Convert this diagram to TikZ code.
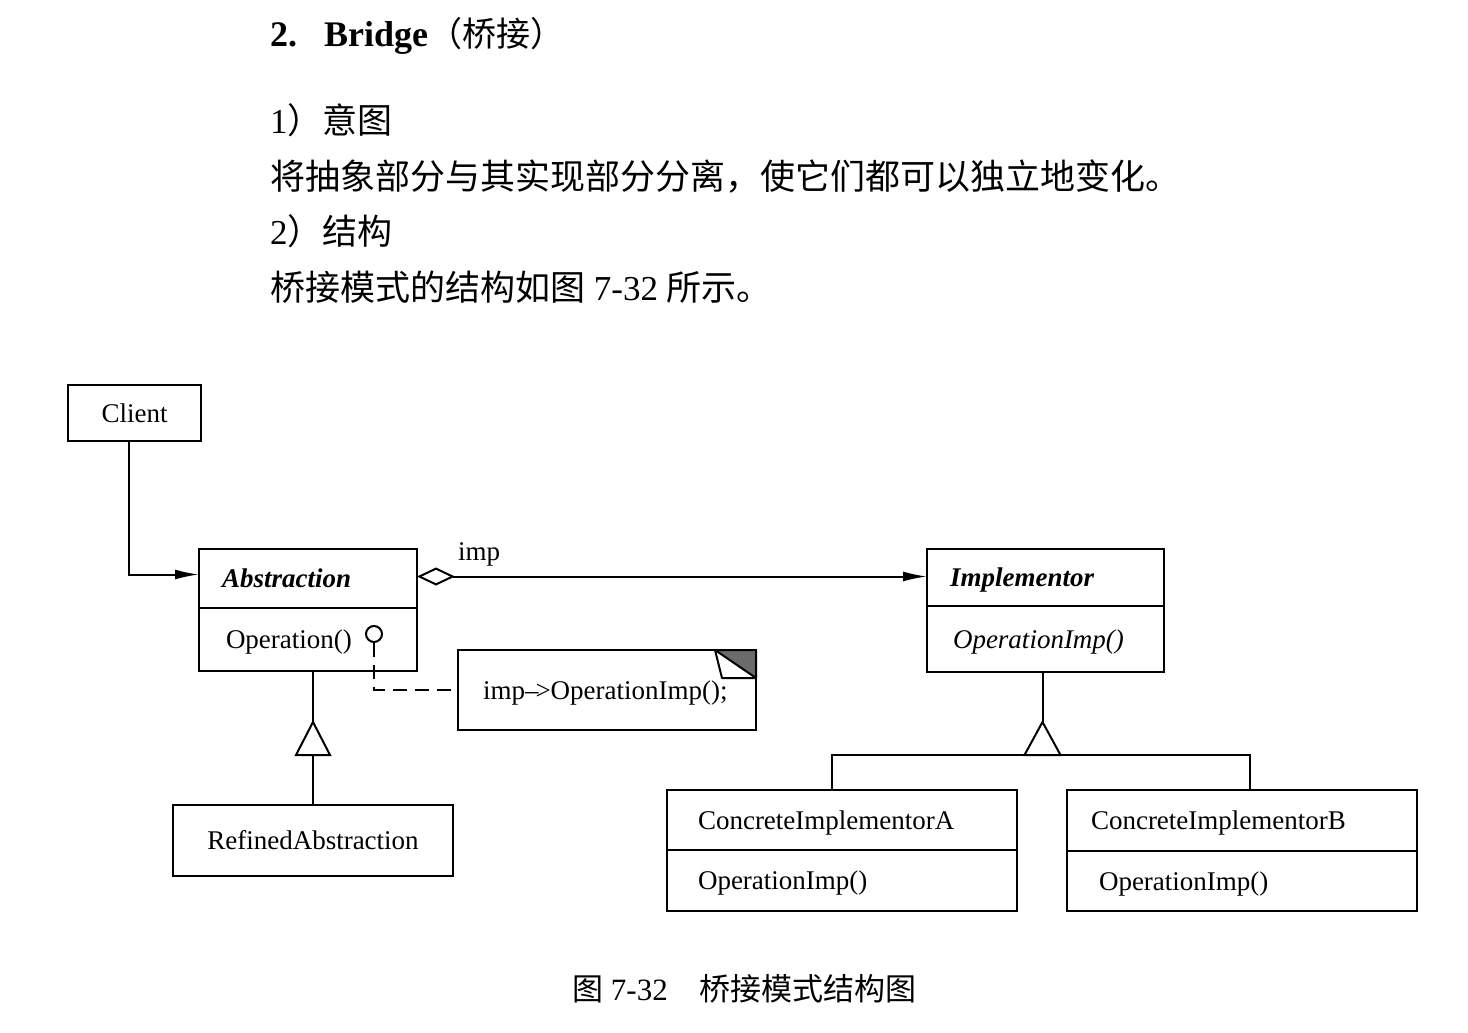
\documentclass[tikz,border=0pt]{standalone}
\usepackage{fontspec}
\setmainfont{Liberation Serif}
\newfontfamily\cjk{Noto Sans CJK SC}
\usetikzlibrary{arrows.meta,calc}
\begin{document}
\begin{tikzpicture}[x=1pt,y=-1pt,
  lw/.style={line width=2pt},
  box/.style={draw, line width=2pt, inner sep=0pt, outer sep=0pt, anchor=north west},
  umlfont/.style={font=\fontsize{27pt}{32pt}\selectfont},
  txt/.style={text height=20pt, text depth=2pt},
  lefttxt/.style={align=left},
  para/.style={anchor=base west, inner sep=0pt, font=\fontsize{35pt}{40pt}\selectfont},
  dashline/.style={line width=2pt, dash pattern=on 14pt off 8pt},
  tipL/.style={-{Latex[length=24pt,width=10pt]}}
]
\useasboundingbox (0,0) rectangle (1468,1033);
\fill[white] (0,0) rectangle (1468,1033);

% ---------- heading text ----------
\node[anchor=base west, inner sep=0pt, font=\fontsize{36pt}{40pt}\selectfont\bfseries] (title) at (270,47)
  {2.\hspace{27pt}Bridge{\cjk\mdseries\fontsize{34pt}{40pt}\selectfont （桥接）}};
\node[para] (l1) at (270,133) {1{\cjk ）意图}};
\node[para] (l2) at (270,189) {\cjk 将抽象部分与其实现部分分离，使它们都可以独立地变化。};
\node[para] (l3) at (270,244) {2{\cjk ）结构}};
\node[para] (l4) at (270,300) {{\cjk 桥接模式的结构如图} 7-32 {\cjk 所示。}};

% ---------- classes ----------
\node[box, umlfont, txt, minimum width=133pt, minimum height=56pt] (client) at (68,385) {Client};

\node[box, txt, lefttxt, minimum height=59pt, text width=172pt, inner xsep=23pt,
      font=\fontsize{27pt}{32pt}\selectfont\bfseries\itshape] (absH) at (199,549) {Abstraction};
\node[box, umlfont, txt, lefttxt, minimum height=63pt, text width=164pt, inner xsep=27pt] (absB) at (absH.south west) {Operation()};

\node[box, txt, lefttxt, minimum height=57pt, text width=191pt, inner xsep=23pt,
      font=\fontsize{27pt}{32pt}\selectfont\bfseries\itshape] (implH) at (927,549) {Implementor};
\node[box, txt, lefttxt, minimum height=66pt, text width=185pt, inner xsep=26pt,
      font=\fontsize{27pt}{32pt}\selectfont\itshape] (implB) at (implH.south west) {OperationImp()};

\node[box, umlfont, txt, minimum width=280pt, minimum height=71pt] (refined) at (173,805) {RefinedAbstraction};

\node[box, umlfont, txt, lefttxt, minimum height=60pt, text width=288pt, inner xsep=31pt] (caH) at (667,790) {ConcreteImplementorA};
\node[box, umlfont, txt, lefttxt, minimum height=61pt, text width=288pt, inner xsep=31pt] (caB) at (caH.south west) {OperationImp()};

\node[box, umlfont, txt, lefttxt, minimum height=61pt, text width=302pt, inner xsep=24pt] (cbH) at (1067,790) {ConcreteImplementorB};
\node[box, umlfont, txt, lefttxt, minimum height=60pt, text width=286pt, inner xsep=32pt] (cbB) at (cbH.south west) {OperationImp()};

% ---------- note ----------
\node[box, umlfont, txt, lefttxt, minimum height=80pt, text width=248pt, inner xsep=25pt] (note) at (458,650)
  {imp\textendash\kern-3pt>OperationImp();};
\filldraw[lw, fill=black!58, line join=round] ($(note.north east)+(-41,0)$) -- (note.north east) -- ($(note.north east)+(0,28)$) -- cycle;
\draw[lw, line join=round] ($(note.north east)+(-41,0)$) -- ($(note.north east)+(-34,28)$) -- ($(note.north east)+(0,28)$);

% lollipop and dashed link
\node[circle, draw, lw, minimum size=16pt, inner sep=0pt] (lol) at (374,634) {};
\draw[dashline] (lol.south) |- (note.west);

% ---------- connectors ----------
\draw[lw, tipL] ([xshift=-6pt]client.south) |- ([yshift=4pt]absH.west);
\draw[lw, {Diamond[open,length=38pt,width=18pt]}-{Latex[length=24pt,width=10pt]}]
  ([yshift=2pt]absH.east) -- ([yshift=2pt]absH.east -| implH.west);
\node[anchor=base west, inner sep=0pt, umlfont] (implbl) at (458,560) {imp};

% inheritance Abstraction <- RefinedAbstraction
\coordinate (at) at ($(refined.north)+(0,-83)$);
\draw[lw] (absB.south -| at) -- (at);
\draw[lw, line join=miter] (at) -- ++(-17,33) -- ++(34,0) -- cycle;
\draw[lw] (refined.north) -- ++(0,-50);

% inheritance Implementor <- ConcreteImplementors
\coordinate (it) at ($(implB.south)+(-3,50)$);
\draw[lw] (implB.south -| it) -- (it);
\draw[lw, line join=miter] (it) -- ++(-18,33) -- ++(36,0) -- cycle;
\coordinate (tb) at ($(it)+(0,33)$);
\draw[lw] ([xshift=-10pt]caH.north) |- (tb) -| ([xshift=8pt]cbH.north);

% ---------- caption ----------
\node[anchor=base west, inner sep=0pt, font=\fontsize{31pt}{36pt}\selectfont] (cap) at (572,1000)
  {{\cjk 图} 7-32\hspace{32pt}{\cjk 桥接模式结构图}};
\end{tikzpicture}
\end{document}
